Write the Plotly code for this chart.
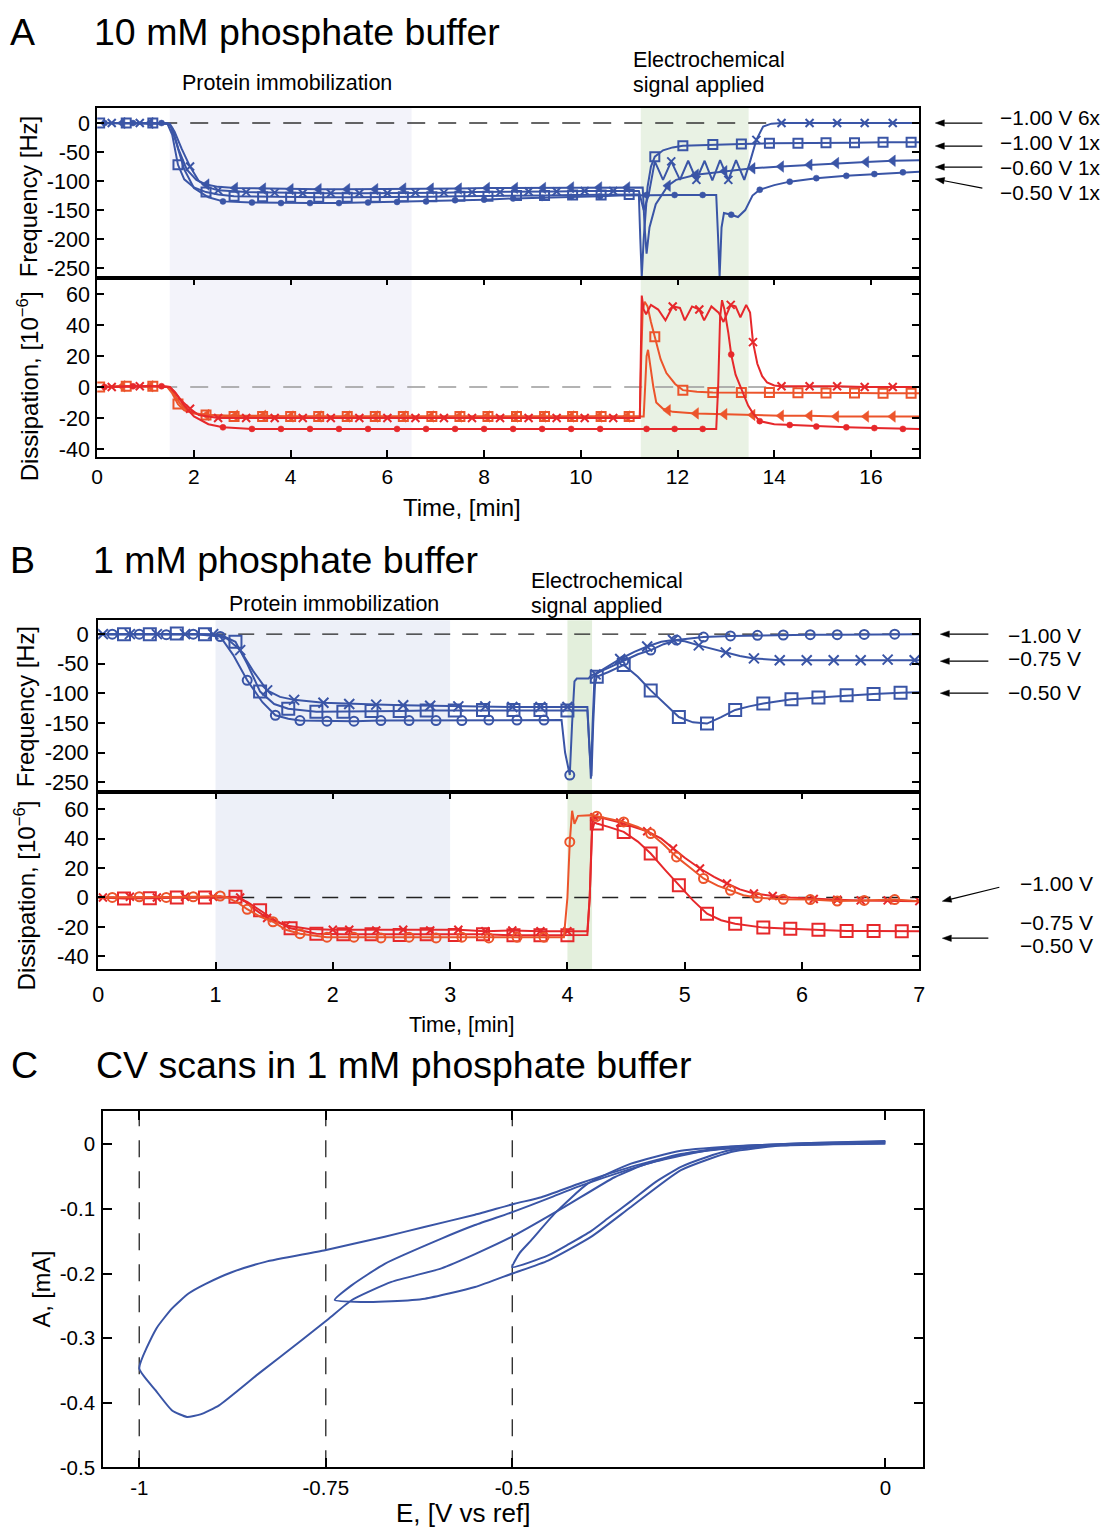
import numpy as np
import plotly.graph_objects as go

W, H = 1106, 1535
FONT = "Liberation Sans, Arial, sans-serif"

BLUE = "#3a55a6"
RED = "#e6282b"
ORANGE = "#ec542b"

# ---------------- Panel A: 10 mM phosphate buffer ----------------
# frequency, -1.00 V 6x
a_f_6x_t = [0, 0.3, 0.88, 1.3, 1.5, 1.6, 1.75, 1.92, 2.1, 2.3, 2.5, 3.08, 3.67, 4.25, 4.83, 5.42, 6.0, 6.58, 7.17, 7.75,
            8.33, 8.92, 9.5, 10.08, 10.67, 11.2, 11.3, 11.4, 11.53, 11.7, 11.87, 12.05, 12.22, 12.39, 12.56, 12.72, 12.88,
            13.05, 13.21, 13.38, 13.49, 13.63, 13.77, 13.94, 14.15, 14.73, 15.3, 15.87, 16.45, 17.0]
a_f_6x_v = [0, 0, 0, 0, -1, -15, -45, -75, -100, -111, -116, -119, -120, -121, -121, -121, -121, -120, -120, -119,
            -119, -118, -118, -117, -117, -117, -150, -125, -66, -98, -66, -98, -65, -98, -65, -99, -64,
            -98, -64, -98, -69, -29, -6, -1, 0, 0, 0, 0, 0, 0]
a_f_6x_mk = [0.3, 0.88, 1.92, 2.5, 3.08, 3.67, 4.25, 4.83, 5.42, 6.0, 6.58, 7.17, 7.75, 8.33, 8.92, 9.5, 10.08, 10.67,
             11.87, 12.39, 13.05, 13.63, 14.15, 14.73, 15.3, 15.87, 16.45]

# frequency, -1.00 V 1x
a_f_100_t = [0, 0.05, 0.6, 1.15, 1.45, 1.55, 1.67, 1.8, 2.0, 2.25, 2.5, 2.83, 3.42, 4.0, 4.58, 5.17, 5.75, 6.33, 6.92, 7.5,
             8.08, 8.67, 9.25, 9.83, 10.42, 11.0, 11.2, 11.23, 11.26, 11.3, 11.38, 11.45, 11.53, 11.7, 11.9, 12.11, 12.4,
             12.73, 13.32, 13.9, 14.49, 15.07, 15.66, 16.25, 16.83, 17.0]
a_f_100_v = [0, 0, 0, 0, -1, -20, -72, -97, -111, -119, -123, -126, -127, -128, -128, -128, -128, -127, -127, -126,
             -126, -125, -125, -124, -124, -123, -123, -200, -265, -200, -110, -75, -58, -47, -42, -39, -38,
             -37, -36, -35, -35, -34, -34, -33, -33, -33]
a_f_100_mk = [0.05, 0.6, 1.15, 1.67, 2.25, 2.83, 3.42, 4.0, 4.58, 5.17, 5.75, 6.33, 6.92, 7.5, 8.08, 8.67, 9.25, 9.83,
              10.42, 11.0, 11.53, 12.11, 12.73, 13.32, 13.9, 14.49, 15.07, 15.66, 16.25, 16.83]

# frequency, -0.60 V 1x
a_f_060_t = [0, 0.52, 1.1, 1.45, 1.55, 1.68, 1.85, 2.05, 2.26, 2.5, 2.85, 3.43, 4.0, 4.58, 5.17, 5.75, 6.33, 6.9, 7.48, 8.06,
             8.64, 9.22, 9.8, 10.38, 10.96, 11.28, 11.32, 11.36, 11.42, 11.55, 11.8, 11.97, 12.38, 12.97, 13.55, 14.14,
             14.73, 15.28, 15.9, 16.45, 17.0]
a_f_060_v = [0, 0, 0, 0, -8, -45, -80, -98, -106, -110, -112, -113, -114, -114, -114, -114, -113, -113, -113, -112,
             -112, -112, -111, -111, -111, -111, -180, -225, -180, -140, -108, -98, -89, -83, -78, -75,
             -72, -69, -67, -65, -64]
a_f_060_mk = [0.52, 1.1, 2.26, 2.85, 3.43, 4.0, 4.58, 5.17, 5.75, 6.33, 6.9, 7.48, 8.06, 8.64, 9.22, 9.8, 10.38, 10.96,
              11.8, 12.38, 12.97, 13.55, 14.14, 14.73, 15.28, 15.9, 16.45]

# frequency, -0.50 V 1x
a_f_050_t = [0, 0.15, 0.74, 1.33, 1.5, 1.62, 1.8, 2.0, 2.3, 2.6, 3.2, 3.8, 4.4, 5.0, 5.6, 6.2, 6.8, 7.4, 8.0, 8.6,
             9.2, 9.8, 10.4, 10.8, 11.36, 11.94, 12.52, 12.8, 12.84, 12.87, 12.91, 12.96, 13.11, 13.25, 13.4, 13.55,
             13.7, 14.0, 14.32, 14.87, 15.49, 16.07, 16.66, 17.0]
a_f_050_v = [0, 0, 0, 0, -2, -30, -80, -112, -128, -135, -137, -138, -138, -138, -137, -136, -135, -133, -132, -130,
             -129, -127, -126, -125, -124, -124, -124, -124, -200, -265, -180, -155, -158, -162, -150, -125,
             -115, -107, -101, -95, -91, -88, -85, -84]
a_f_050_mk = [0.15, 0.74, 1.33, 2.6, 3.2, 3.8, 4.4, 5.0, 5.6, 6.2, 6.8, 7.4, 8.0, 8.6, 9.2, 9.8, 10.4, 11.36, 11.94,
              12.52, 13.11, 13.7, 14.32, 14.87, 15.49, 16.07, 16.66]

# dissipation, -1.00 V 6x
a_d_6x_t = [0, 0.3, 0.88, 1.3, 1.5, 1.6, 1.75, 1.92, 2.1, 2.3, 2.5, 3.08, 3.67, 4.25, 4.83, 5.42, 6.0, 6.58, 7.17, 7.75,
            8.33, 8.92, 9.5, 10.08, 10.67, 11.22, 11.26, 11.3, 11.35, 11.45, 11.6, 11.75, 11.9, 12.05, 12.15, 12.3,
            12.45, 12.55, 12.7, 12.85, 12.95, 13.1, 13.2, 13.3, 13.42, 13.5, 13.56, 13.65, 13.75, 13.85, 14.0, 14.15,
            14.73, 15.3, 15.87, 16.45, 17.0]
a_d_6x_v = [0, 0, 0.5, 0.5, 0, -3, -9, -14, -18, -19, -20, -20, -20, -20, -20, -20, -20, -20, -20, -20,
            -20, -20, -20, -20, -20, -20, 59, 50, 47, 53, 50, 43, 52, 51, 43, 52,
            50, 43, 52, 48, 42, 53, 52, 45, 53, 48, 29, 15, 7, 3, 1, 0.5,
            0.5, 0.5, 0, 0, 0]
a_d_6x_mk = [0.3, 0.88, 1.92, 2.5, 3.08, 3.67, 4.25, 4.83, 5.42, 6.0, 6.58, 7.17, 7.75, 8.33, 8.92, 9.5, 10.08, 10.67,
             11.9, 12.45, 13.1, 13.56, 14.15, 14.73, 15.3, 15.87, 16.45]

# dissipation, -1.00 V 1x
a_d_100_t = [0, 0.05, 0.6, 1.15, 1.45, 1.55, 1.67, 1.8, 2.0, 2.25, 2.83, 3.42, 4.0, 4.58, 5.17, 5.75, 6.33, 6.92, 7.5, 8.08,
             8.67, 9.25, 9.83, 10.42, 11.0, 11.22, 11.25, 11.28, 11.32, 11.38, 11.45, 11.53, 11.65, 11.77, 11.95, 12.11,
             12.4, 12.73, 13.32, 13.9, 14.49, 15.07, 15.66, 16.25, 16.83, 17.0]
a_d_100_v = [0, 0, 0.5, 0.5, 0, -4, -11, -15, -17, -18, -19, -19, -19, -19, -19, -19, -19, -19, -19, -19,
             -19, -19, -19, -19, -19, -19, 20, 50, 55, 52, 42, 32.5, 18, 9, 2, -2,
             -3, -3.5, -3.5, -3.5, -3.7, -3.8, -3.9, -4, -4, -4]
a_d_100_mk = a_f_100_mk

# dissipation, -0.60 V 1x
a_d_060_t = [0, 0.52, 1.1, 1.5, 1.6, 1.7, 1.85, 2.05, 2.26, 2.85, 3.43, 4.0, 4.58, 5.17, 5.75, 6.33, 6.9, 7.48, 8.06, 8.64,
             9.22, 9.8, 10.38, 10.96, 11.3, 11.33, 11.36, 11.39, 11.43, 11.5, 11.56, 11.7, 11.8, 11.9, 12.38, 12.97,
             13.55, 14.14, 14.73, 15.28, 15.9, 16.45, 17.0]
a_d_060_v = [0, 0.5, 0.5, 0, -5, -10, -15, -17, -18, -18.5, -18.5, -19, -19, -19, -19, -19, -19, -19, -19, -19,
             -19, -19, -19, -19, -19, 0, 20, 24, 15, 0, -10, -14, -15, -16, -17, -17.5,
             -18, -18.5, -18.5, -19, -19, -19, -19]
a_d_060_mk = a_f_060_mk

# dissipation, -0.50 V 1x
a_d_050_t = [0, 0.15, 0.74, 1.33, 1.5, 1.62, 1.8, 2.0, 2.3, 2.6, 3.2, 3.8, 4.4, 5.0, 5.6, 6.2, 6.8, 7.4, 8.0, 8.6,
             9.2, 9.8, 10.4, 11.36, 11.94, 12.52, 12.8, 12.84, 12.88, 12.92, 12.97, 13.05, 13.11, 13.2, 13.36, 13.46,
             13.56, 13.7, 14.0, 14.32, 14.87, 15.49, 16.07, 16.66, 17.0]
a_d_050_v = [0, 0, 0.5, 0.5, 0, -4, -12, -19, -24, -26, -27, -27, -27, -27, -27, -27, -27, -27, -27, -27,
             -27, -27, -27, -27, -27, -27, -27, 0, 45, 56, 50, 35, 21, 8, -4, -12,
             -17, -22, -24, -24.5, -25.5, -26, -26.5, -27, -27]
a_d_050_mk = a_f_050_mk

a_labels = ["\u22121.00 V 6x", "\u22121.00 V 1x", "\u22120.60 V 1x", "\u22120.50 V 1x"]

# ---------------- Panel B: 1 mM phosphate buffer ----------------
b_f_100_t = [0, 0.12, 0.35, 0.58, 0.81, 1.04, 1.15, 1.27, 1.4, 1.51, 1.62, 1.72, 1.95, 2.18, 2.41, 2.65, 2.88, 3.1, 3.33,
             3.57, 3.8, 3.95, 3.98, 4.02, 4.04, 4.06, 4.08, 4.18, 4.2, 4.25, 4.35, 4.48, 4.6, 4.71, 4.82, 4.93, 5.16,
             5.39, 5.62, 5.84, 6.07, 6.3, 6.53, 6.79, 7.0]
b_f_100_v = [0, 0, 0, -1, 0, -4, -35, -78, -115, -137, -143, -146, -147, -147, -146, -146, -146, -146, -145,
             -145, -145, -145, -200, -238, -150, -80, -75, -75, -70, -66, -57, -45, -34, -27, -17, -10, -5,
             -3, -2, -1.5, -1, -1, -0.5, 0, 0]
b_f_100_mk = [0.12, 0.35, 0.58, 0.81, 1.04, 1.27, 1.51, 1.72, 1.95, 2.18, 2.41, 2.65, 2.88, 3.1, 3.33, 3.57, 3.8, 4.02,
              4.48, 4.71, 4.93, 5.16, 5.39, 5.62, 5.84, 6.07, 6.3, 6.53, 6.79]

b_f_075_t = [0, 0.04, 0.27, 0.5, 0.74, 0.98, 1.1, 1.21, 1.32, 1.44, 1.55, 1.67, 1.92, 2.14, 2.37, 2.6, 2.83, 3.07, 3.3,
             3.53, 3.77, 4.0, 4.17, 4.19, 4.2, 4.215, 4.23, 4.24, 4.3, 4.45, 4.57, 4.68, 4.8, 4.9, 5.0, 5.12, 5.23,
             5.35, 5.47, 5.59, 5.81, 6.04, 6.27, 6.5, 6.73, 6.96, 7.0]
b_f_075_v = [0, 0, 0, 0, 0, 0, -8, -27, -62, -95, -106, -111, -116, -118, -119, -120, -121, -122, -122,
             -123, -123, -123, -123, -200, -244, -150, -75, -68, -60, -42, -30, -21, -13, -10, -12, -19, -25,
             -31, -37, -41, -44, -44, -44, -44, -43, -44, -44]
b_f_075_mk = [0.04, 0.27, 0.5, 0.74, 0.98, 1.21, 1.44, 1.67, 1.92, 2.14, 2.37, 2.6, 2.83, 3.07, 3.3, 3.53, 3.77, 4.0,
              4.24, 4.45, 4.68, 4.9, 5.12, 5.35, 5.59, 5.81, 6.04, 6.27, 6.5, 6.73, 6.96]

b_f_050_t = [0, 0.22, 0.44, 0.67, 0.91, 1.05, 1.17, 1.27, 1.38, 1.5, 1.62, 1.86, 2.09, 2.33, 2.57, 2.8, 3.04, 3.28, 3.54,
             3.77, 4.0, 4.17, 4.19, 4.205, 4.22, 4.235, 4.25, 4.35, 4.48, 4.6, 4.71, 4.83, 4.95, 5.07, 5.19, 5.31, 5.43,
             5.55, 5.67, 5.91, 6.14, 6.38, 6.61, 6.84, 7.0]
b_f_050_v = [0, 0, 0, 1, 0, -2, -13, -50, -97, -118, -126, -131, -131, -130, -130, -129, -129, -128, -128,
             -128, -129, -129, -200, -240, -150, -85, -72, -64, -52, -72, -95, -118, -140, -149, -151, -140, -128,
             -122, -117, -110, -107, -103, -101, -99, -98]
b_f_050_mk = [0.22, 0.44, 0.67, 0.91, 1.17, 1.38, 1.62, 1.86, 2.09, 2.33, 2.57, 2.8, 3.04, 3.28, 3.54, 3.77, 4.0, 4.25,
              4.48, 4.71, 4.95, 5.19, 5.43, 5.67, 5.91, 6.14, 6.38, 6.61, 6.84]

b_d_100_t = [0, 0.12, 0.35, 0.58, 0.81, 1.04, 1.1, 1.2, 1.27, 1.38, 1.49, 1.6, 1.72, 1.95, 2.18, 2.41, 2.65, 2.88, 3.1,
             3.33, 3.57, 3.8, 3.97, 4.0, 4.02, 4.04, 4.06, 4.09, 4.18, 4.22, 4.25, 4.48, 4.6, 4.71, 4.82, 4.93, 5.05,
             5.16, 5.28, 5.39, 5.5, 5.62, 5.84, 6.07, 6.3, 6.53, 6.79, 7.0]
b_d_100_v = [0, 0, 0.5, 0, 0.5, 1, 0, -4, -8, -13, -16.5, -22, -24.6, -27, -27, -27.5, -27, -27.5, -27,
             -27.5, -27, -27, -27, 0, 37.8, 59, 50, 55.5, 56, 56, 55.2, 51.4, 48, 43.5, 36, 27.6, 20,
             12.9, 8, 4.9, 1.5, -0.1, -1.2, -1.4, -2.4, -2, -1.4, -2.5]
b_d_100_mk = [0.12, 0.35, 0.58, 0.81, 1.04, 1.27, 1.49, 1.72, 1.95, 2.18, 2.41, 2.65, 2.88, 3.1, 3.33, 3.57, 3.8, 4.02,
              4.25, 4.48, 4.71, 4.93, 5.16, 5.39, 5.62, 5.84, 6.07, 6.3, 6.53, 6.79]

b_d_075_t = [0, 0.04, 0.27, 0.5, 0.74, 0.98, 1.21, 1.3, 1.44, 1.6, 1.8, 2.0, 2.14, 2.37, 2.6, 2.83, 3.07, 3.3, 3.53,
             3.77, 4.0, 4.17, 4.19, 4.21, 4.23, 4.3, 4.45, 4.6, 4.68, 4.8, 4.9, 5.0, 5.13, 5.25, 5.36, 5.47, 5.59,
             5.75, 5.9, 6.1, 6.3, 6.5, 6.73, 7.0]
b_d_075_v = [0, 0, 0.5, 0, 0.5, 0.5, 0, -6, -14, -19, -21.5, -22, -22, -22.5, -22, -22.5, -22, -23, -22.5,
             -23, -23, -23, 0, 50, 54.5, 54, 51, 47, 45, 40, 33.3, 27, 19.7, 14, 9.5, 5.5, 2.7,
             1, 0, -1, -1.5, -2, -2, -2.5]
b_d_075_mk = b_f_075_mk

b_d_050_t = [0, 0.22, 0.44, 0.67, 0.91, 1.17, 1.27, 1.38, 1.5, 1.64, 1.86, 2.09, 2.33, 2.57, 2.8, 3.04, 3.28, 3.54, 3.77,
             4.0, 4.17, 4.19, 4.21, 4.23, 4.25, 4.35, 4.48, 4.6, 4.71, 4.83, 4.95, 5.07, 5.19, 5.31, 5.43, 5.67, 5.9,
             6.14, 6.38, 6.61, 6.85, 7.0]
b_d_050_v = [0, -0.7, -0.5, 0, 0, 0.5, -3, -8.7, -15, -21, -24.6, -25, -25, -25.5, -25, -25.5, -25, -25.7, -25.7,
             -25.7, -25.5, 0, 45, 51, 50.3, 48, 44.6, 38, 29.9, 19, 8.3, -2, -11, -15.5, -17.8, -20.5, -21.2,
             -21.9, -22.8, -22.8, -23, -23]
b_d_050_mk = [0.22, 0.44, 0.67, 0.91, 1.17, 1.38, 1.64, 1.86, 2.09, 2.33, 2.57, 2.8, 3.04, 3.28, 3.54, 3.77, 4.0, 4.25,
              4.48, 4.71, 4.95, 5.19, 5.43, 5.67, 5.9, 6.14, 6.38, 6.61, 6.85]

b_labels = ["\u22121.00 V", "\u22120.75 V", "\u22120.50 V"]

# ---------------- Panel C: CV scans ----------------
cv1_e = [0, -0.07, -0.14, -0.207, -0.24, -0.274, -0.31, -0.341, -0.37, -0.394, -0.425, -0.452, -0.5, -0.49, -0.475,
         -0.443, -0.399, -0.341, -0.274, -0.185, -0.1, 0]
cv1_i = [0.003, 0.002, 0.0, -0.009, -0.02, -0.035, -0.06, -0.088, -0.113, -0.134, -0.155, -0.172, -0.19, -0.168, -0.149,
         -0.107, -0.061, -0.030, -0.010, -0.002, 0.002, 0.004]
cv2_e = [0, -0.07, -0.14, -0.207, -0.274, -0.341, -0.394, -0.452, -0.5, -0.55, -0.617, -0.662, -0.7, -0.738, -0.715,
         -0.671, -0.595, -0.55, -0.5, -0.45, -0.408, -0.341, -0.274, -0.207, -0.1, 0]
cv2_i = [0.001, 0.0, -0.002, -0.012, -0.04, -0.097, -0.143, -0.18, -0.2, -0.221, -0.239, -0.243, -0.244, -0.241, -0.218,
         -0.185, -0.146, -0.125, -0.105, -0.083, -0.064, -0.038, -0.016, -0.005, 0.001, 0.003]
cv3_e = [0, -0.1, -0.18, -0.25, -0.319, -0.363, -0.43, -0.497, -0.55, -0.595, -0.662, -0.715, -0.746, -0.782, -0.84,
         -0.893, -0.918, -0.936, -0.956, -0.978, -1.0, -0.977, -0.956, -0.934, -0.911, -0.876, -0.831, -0.751, -0.671,
         -0.618, -0.55, -0.497, -0.461, -0.408, -0.341, -0.274, -0.207, -0.1, 0]
cv3_i = [0.002, 0.0, -0.004, -0.012, -0.030, -0.051, -0.097, -0.141, -0.17, -0.192, -0.213, -0.241, -0.270, -0.303,
         -0.355, -0.404, -0.418, -0.422, -0.412, -0.381, -0.347, -0.285, -0.254, -0.231, -0.216, -0.198, -0.182, -0.164,
         -0.143, -0.128, -0.109, -0.092, -0.082, -0.060, -0.035, -0.015, -0.004, 0.002, 0.005]
cv_vertices = [-1.0, -0.75, -0.5]

# tick labels
freq_ticks = [0, -50, -100, -150, -200, -250]
diss_ticks = [60, 40, 20, 0, -20, -40]
a_time_ticks = [0, 2, 4, 6, 8, 10, 12, 14, 16]
b_time_ticks = [0, 1, 2, 3, 4, 5, 6, 7]
cv_e_ticks = [-1, -0.75, -0.5, 0]
cv_i_ticks = [0, -0.1, -0.2, -0.3, -0.4, -0.5]


def fmt(v):
    return f"{v:g}"


# ---------------- page grid ----------------
# Layout positions below are given on a page grid; this maps them to paper units.
GRID_X0, GRID_SX, GRID_SY = 5.8, 0.989, 0.9926


def px_x(x):
    return ((x - GRID_X0) / GRID_SX) / W


def px_y(y):
    return 1 - (y / GRID_SY) / H


fig = go.Figure()


def add_series(t, v, mk, xa, ya, color, symbol, size, lw_marker=2.0, filled=False):
    t = np.asarray(t, dtype=float)
    v = np.asarray(v, dtype=float)
    if len(t) != len(v):
        raise ValueError(f"length mismatch {len(t)} vs {len(v)} for {symbol} {xa}")
    fig.add_trace(go.Scatter(x=t, y=v, mode="lines", line=dict(color=color, width=2),
                             xaxis=xa, yaxis=ya, showlegend=False, hoverinfo="skip"))
    idx = sorted(set(int(np.argmin(np.abs(t - m))) for m in mk))
    marker = dict(symbol=symbol, size=size, color=color, line=dict(color=color, width=lw_marker))
    if filled:
        marker["line"] = dict(color=color, width=0.5)
    fig.add_trace(go.Scatter(x=t[idx], y=v[idx], mode="markers", marker=marker,
                             xaxis=xa, yaxis=ya, showlegend=False, hoverinfo="skip"))


# Panel A traces
add_series(a_f_100_t, a_f_100_v, a_f_100_mk, "x", "y", BLUE, "square-open", 9)
add_series(a_f_060_t, a_f_060_v, a_f_060_mk, "x", "y", BLUE, "triangle-left", 10, filled=True)
add_series(a_f_050_t, a_f_050_v, a_f_050_mk, "x", "y", BLUE, "circle", 6, filled=True)
add_series(a_f_6x_t, a_f_6x_v, a_f_6x_mk, "x", "y", BLUE, "x-thin", 8)

add_series(a_d_100_t, a_d_100_v, a_d_100_mk, "x2", "y2", ORANGE, "square-open", 9)
add_series(a_d_060_t, a_d_060_v, a_d_060_mk, "x2", "y2", ORANGE, "triangle-left", 10, filled=True)
add_series(a_d_050_t, a_d_050_v, a_d_050_mk, "x2", "y2", RED, "circle", 6, filled=True)
add_series(a_d_6x_t, a_d_6x_v, a_d_6x_mk, "x2", "y2", RED, "x-thin", 8)

# Panel B traces
add_series(b_f_050_t, b_f_050_v, b_f_050_mk, "x3", "y3", BLUE, "square-open", 12)
add_series(b_f_075_t, b_f_075_v, b_f_075_mk, "x3", "y3", BLUE, "x-thin", 10)
add_series(b_f_100_t, b_f_100_v, b_f_100_mk, "x3", "y3", BLUE, "circle-open", 9)

add_series(b_d_050_t, b_d_050_v, b_d_050_mk, "x4", "y4", RED, "square-open", 12)
add_series(b_d_075_t, b_d_075_v, b_d_075_mk, "x4", "y4", RED, "x-thin", 8)
add_series(b_d_100_t, b_d_100_v, b_d_100_mk, "x4", "y4", ORANGE, "circle-open", 9)

# Panel C traces
for e, i in [(cv1_e, cv1_i), (cv2_e, cv2_i), (cv3_e, cv3_i)]:
    if len(e) != len(i):
        raise ValueError("cv length mismatch")
    fig.add_trace(go.Scatter(x=e, y=i, mode="lines", line=dict(color=BLUE, width=2, shape="spline", smoothing=0.5),
                             xaxis="x5", yaxis="y5", showlegend=False, hoverinfo="skip"))

# ---------------- axes ----------------
frame = dict(showline=True, linecolor="black", linewidth=2, mirror=True, showgrid=False, zeroline=False)
tickst = dict(ticks="inside", ticklen=7, tickwidth=2, tickcolor="black", mirror="ticks")


def xaxis(l, r, rng, ticks, size, standoff, show=True, anchor="y"):
    d = dict(frame, domain=[px_x(l), px_x(r)], range=rng, anchor=anchor,
             tickfont=dict(family=FONT, size=size, color="black"))
    if show:
        d.update(tickst, tickvals=ticks, ticktext=[fmt(v) for v in ticks], ticklabelstandoff=standoff)
    else:
        # frequency panels share the time axis drawn below them
        d.update(ticks="", showticklabels=False, tickmode="array", tickvals=[], ticktext=[])
    return d


def yaxis(top, bottom, rng, ticks, size, anchor, standoff):
    d = dict(frame, domain=[px_y(bottom), px_y(top)], range=rng, anchor=anchor,
             tickvals=ticks, ticktext=[fmt(v) for v in ticks],
             tickfont=dict(family=FONT, size=size, color="black"), ticklabelstandoff=standoff)
    d.update(tickst)
    return d


fig.update_layout(
    xaxis=xaxis(97, 919, [0, 17], a_time_ticks, 21, 0, show=False, anchor="y"),
    yaxis=yaxis(108, 278, [-267.2, 25.9], freq_ticks, 21.5, "x", 1),
    xaxis2=xaxis(97, 919, [0, 17], a_time_ticks, 21, 0, anchor="y2"),
    yaxis2=yaxis(278, 457, [-45.2, 70.3], diss_ticks, 21.5, "x2", 1),
    xaxis3=xaxis(98, 919, [0, 7], b_time_ticks, 21.5, 0, show=False, anchor="y3"),
    yaxis3=yaxis(620, 792, [-266.9, 23.6], freq_ticks, 22, "x3", 3),
    xaxis4=xaxis(98, 919, [0, 7], b_time_ticks, 21.5, 5, anchor="y4"),
    yaxis4=yaxis(792, 969, [-48.8, 71.6], diss_ticks, 22, "x4", 3),
    xaxis5=xaxis(103, 923, [-1.0483, 0.0509], cv_e_ticks, 20.5, 1, anchor="y5"),
    yaxis5=yaxis(1111, 1467, [-0.5, 0.0511], cv_i_ticks, 20.5, "x5", 2),
)
fig.layout.xaxis5.ticklen = 9
fig.layout.yaxis5.ticklen = 9

# ---------------- shapes ----------------
shapes = []
for ya in ["y", "y2"]:
    shapes.append(dict(type="rect", xref="x", yref=f"{ya} domain", x0=1.5, x1=6.5, y0=0, y1=1,
                       fillcolor="#f3f3fa", line=dict(width=0), layer="below"))
    shapes.append(dict(type="rect", xref="x", yref=f"{ya} domain", x0=11.24, x1=13.47, y0=0, y1=1,
                       fillcolor="#e9f2e4", line=dict(width=0), layer="below"))
for ya in ["y3", "y4"]:
    shapes.append(dict(type="rect", xref="x3", yref=f"{ya} domain", x0=1.0, x1=3.0, y0=0, y1=1,
                       fillcolor="#edf0f8", line=dict(width=0), layer="below"))
    shapes.append(dict(type="rect", xref="x3", yref=f"{ya} domain", x0=4.0, x1=4.21, y0=0, y1=1,
                       fillcolor="#e3efdc", line=dict(width=0), layer="below"))
# zero reference lines
shapes.append(dict(type="line", xref="x domain", yref="y", x0=0, x1=1, y0=0, y1=0,
                   line=dict(color="#333333", width=1.4, dash="18px,13px"), layer="below"))
shapes.append(dict(type="line", xref="x2 domain", yref="y2", x0=0, x1=1, y0=0, y1=0,
                   line=dict(color="#9a9a9a", width=1.4, dash="18px,13px"), layer="below"))
shapes.append(dict(type="line", xref="x3 domain", yref="y3", x0=0, x1=1, y0=0, y1=0,
                   line=dict(color="#222222", width=1.4, dash="16px,12px"), layer="below"))
shapes.append(dict(type="line", xref="x4 domain", yref="y4", x0=0, x1=1, y0=0, y1=0,
                   line=dict(color="#222222", width=1.4, dash="16px,12px"), layer="below"))
# CV vertex potentials
for e in cv_vertices:
    shapes.append(dict(type="line", xref="x5", yref="y5 domain", x0=e, x1=e, y0=0, y1=1,
                       line=dict(color="#333333", width=1.4, dash="17px,14px"), layer="below"))


def arrow(hx, hy, tx, ty, head_len=9.0, head_half=3.2):
    """Thin pointer line with a filled head, given on the page grid."""
    dx, dy = hx - tx, hy - ty
    n = (dx * dx + dy * dy) ** 0.5
    ux, uy = dx / n, dy / n
    bx, by = hx - ux * head_len, hy - uy * head_len
    shapes.append(dict(type="line", xref="paper", yref="paper",
                       x0=px_x(tx), y0=px_y(ty), x1=px_x(bx), y1=px_y(by),
                       line=dict(color="black", width=1.2)))
    p1 = (bx - uy * head_half, by + ux * head_half)
    p2 = (bx + uy * head_half, by - ux * head_half)
    path = (f"M {px_x(hx)},{px_y(hy)} L {px_x(p1[0])},{px_y(p1[1])} "
            f"L {px_x(p2[0])},{px_y(p2[1])} Z")
    shapes.append(dict(type="path", xref="paper", yref="paper", path=path,
                       fillcolor="black", line=dict(color="black", width=0.5)))


# series pointers, panel A
arrow(935, 123, 982, 123)
arrow(935, 146, 982, 146)
arrow(935, 167, 982, 167)
arrow(935, 179, 982, 188)
# series pointers, panel B
arrow(940, 634, 988, 634)
arrow(940, 661, 988, 661)
arrow(940, 693, 988, 693)
arrow(942, 901, 999, 887)
arrow(942, 938, 988, 938)

fig.update_layout(shapes=shapes)

# ---------------- annotations ----------------
ann = []


def text(x, y, s, size, xanchor="center", angle=0):
    ann.append(dict(x=px_x(x), y=px_y(y), xref="paper", yref="paper", text=s, showarrow=False,
                    xanchor=xanchor, yanchor="middle", textangle=angle,
                    font=dict(family=FONT, size=size, color="black")))


# panel letters and titles
text(22, 32, "A", 37.5)
text(92, 32, "10 mM phosphate buffer", 37.5, "left")
text(22, 560, "B", 37.5)
text(91, 560, "1 mM phosphate buffer", 37.5, "left")
text(24, 1065, "C", 37.5)
text(94, 1065, "CV scans in 1 mM phosphate buffer", 37.5, "left")

text(287, 83, "Protein immobilization", 21.5)
text(631, 60, "Electrochemical", 21.5, "left")
text(631, 85, "signal applied", 21.5, "left")
text(334, 604, "Protein immobilization", 21.5)
text(529, 581, "Electrochemical", 21.5, "left")
text(529, 606, "signal applied", 21.5, "left")

# axis titles
text(28, 197, "Frequency [Hz]", 23.8, angle=-90)
text(28, 386, "Dissipation, [10<sup>\u22126</sup>]", 24, angle=-90)
text(462, 507, "Time, [min]", 24)
text(25, 707, "Frequency [Hz]", 23.8, angle=-90)
text(25, 895, "Dissipation, [10<sup>\u22126</sup>]", 24, angle=-90)
text(462, 1025, "Time, [min]", 21.5)
text(42, 1289, "A, [mA]", 23.5, angle=-90)
text(463, 1513, "E, [V vs ref]", 26)

# series labels
for s, y in zip(a_labels, [117, 142, 167, 192]):
    text(998, y, s, 20.8, "left")
for s, y in zip(b_labels, [635, 658, 692]):
    text(1006, y, s, 21, "left")
for s, y in zip(b_labels, [883, 922, 945]):
    text(1018, y, s, 21, "left")

fig.update_layout(annotations=ann)

fig.update_layout(width=W, height=H, margin=dict(l=0, r=0, t=0, b=0),
                  paper_bgcolor="white", plot_bgcolor="white",
                  font=dict(family=FONT, color="black"))

fig.write_html("out.html")
